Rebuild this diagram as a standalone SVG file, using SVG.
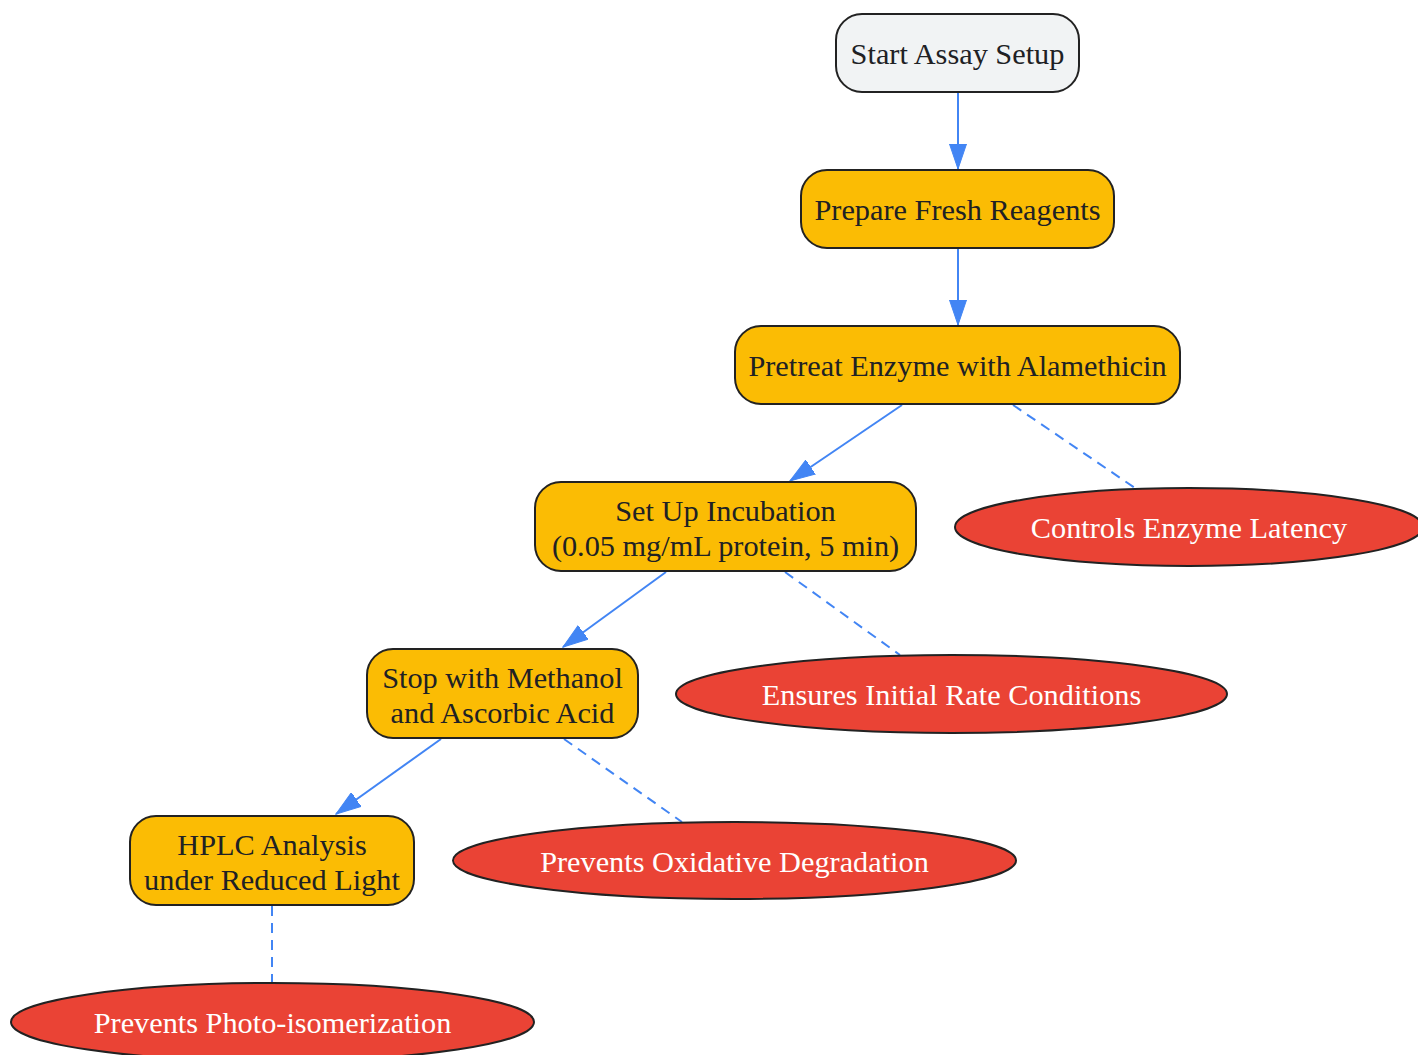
<svg xmlns="http://www.w3.org/2000/svg" width="1418" height="1055" viewBox="0 0 1418 1055">
<style>
.box{stroke:#222;stroke-width:2}
.step{fill:#fbbc04}
.start{fill:#f1f3f4}
.note{fill:#ea4335;stroke:#222;stroke-width:2}
.t{font-family:"Liberation Serif","Times New Roman",serif;font-size:30.3px;text-anchor:middle;fill:#202124}
.w{fill:#ffffff}
.e{stroke:#4285f4;stroke-width:2;fill:none}
.d{stroke-dasharray:10,7}
</style>
<defs>
<marker id="ah" markerUnits="userSpaceOnUse" markerWidth="26" markerHeight="18" refX="25" refY="9" orient="auto">
<path d="M0,0.5 L25,9 L0,17.5 z" fill="#4285f4" stroke="#4285f4" stroke-width="1"/>
</marker>
</defs>
<g id="connectors">
<line class="e" x1="958" y1="93" x2="958" y2="169" marker-end="url(#ah)"/>
<line class="e" x1="958" y1="249" x2="958" y2="325" marker-end="url(#ah)"/>
<line class="e" x1="902" y1="405" x2="790" y2="481" marker-end="url(#ah)"/>
<line class="e d" x1="1013" y1="405" x2="1135" y2="488"/>
<line class="e" x1="666" y1="572" x2="563" y2="647" marker-end="url(#ah)"/>
<line class="e d" x1="785" y1="572" x2="900" y2="655"/>
<line class="e" x1="441" y1="739" x2="336" y2="814" marker-end="url(#ah)"/>
<line class="e d" x1="564" y1="739" x2="682" y2="822"/>
<line class="e d" x1="272" y1="906" x2="272" y2="983"/>
</g>
<g id="start">
<rect class="box start" x="836" y="14" width="243" height="78" rx="26"/>
<text class="t" x="957.5" y="64">Start Assay Setup</text>
</g>
<g id="prepare">
<rect class="box step" x="801" y="170" width="313" height="78" rx="26"/>
<text class="t" x="957.5" y="220">Prepare Fresh Reagents</text>
</g>
<g id="pretreat">
<rect class="box step" x="735" y="326" width="445" height="78" rx="26"/>
<text class="t" x="957.5" y="376">Pretreat Enzyme with Alamethicin</text>
</g>
<g id="incubation">
<rect class="box step" x="535" y="482" width="381" height="89" rx="26"/>
<text class="t" x="725.5" y="521">Set Up Incubation</text>
<text class="t" x="725.5" y="556">(0.05 mg/mL protein, 5 min)</text>
</g>
<g id="stop">
<rect class="box step" x="367" y="649" width="271" height="89" rx="26"/>
<text class="t" x="502.5" y="688">Stop with Methanol</text>
<text class="t" x="502.5" y="723">and Ascorbic Acid</text>
</g>
<g id="hplc">
<rect class="box step" x="130" y="816" width="284" height="89" rx="26"/>
<text class="t" x="272" y="855">HPLC Analysis</text>
<text class="t" x="272" y="890">under Reduced Light</text>
</g>
<g id="latency">
<ellipse class="note" cx="1189" cy="527" rx="234" ry="39"/>
<text class="t w" x="1189" y="538">Controls Enzyme Latency</text>
</g>
<g id="initial">
<ellipse class="note" cx="951.5" cy="694" rx="275.5" ry="39"/>
<text class="t w" x="951.5" y="705">Ensures Initial Rate Conditions</text>
</g>
<g id="oxidative">
<ellipse class="note" cx="734.5" cy="860.5" rx="281.5" ry="38.5"/>
<text class="t w" x="734.5" y="872">Prevents Oxidative Degradation</text>
</g>
<g id="photo">
<ellipse class="note" cx="272.5" cy="1022" rx="261.5" ry="39"/>
<text class="t w" x="272.5" y="1033">Prevents Photo-isomerization</text>
</g>
</svg>
